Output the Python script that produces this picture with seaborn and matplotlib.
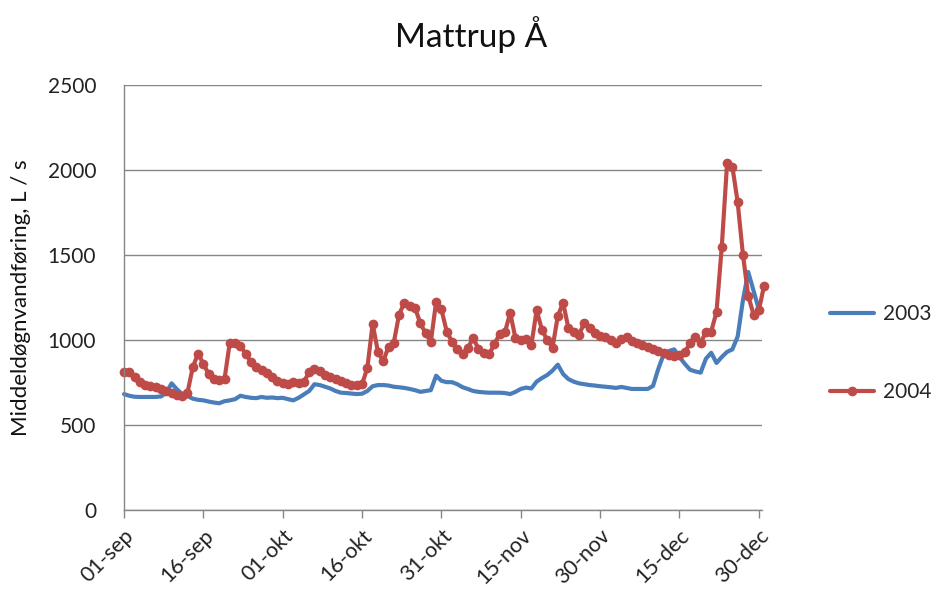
import numpy as np
import pandas as pd
import matplotlib
matplotlib.use("Agg")
import matplotlib.pyplot as plt
import seaborn as sns

title = "Mattrup Å"
ylabel = "Middeldøgnvandføring, L / s"
series_names = ["2003", "2004"]
tick_labels = ["01-sep", "16-sep", "01-okt", "16-okt", "31-okt",
               "15-nov", "30-nov", "15-dec", "30-dec"]
y_ticks = [0, 500, 1000, 1500, 2000, 2500]

flow_2003 = [682, 672, 666, 665, 665, 665, 665, 668, 690, 745,
             710, 682, 670, 655, 648, 645, 638, 632, 628, 640,
             645, 652, 672, 665, 660, 658, 665, 660, 662, 658,
             660, 652, 645, 660, 680, 700, 740, 735, 725, 715,
             700, 690, 688, 685, 682, 684, 700, 728, 735, 735,
             732, 725, 722, 718, 712, 705, 695, 700, 705, 790,
             760, 752, 752, 740, 722, 712, 700, 695, 692, 690,
             690, 690, 688, 682, 695, 712, 720, 715, 755, 776,
             794, 820, 855, 800, 770, 755, 745, 740, 735, 732,
             728, 725, 722, 718, 724, 718, 712, 712, 712, 712,
             730, 830, 915, 935, 945, 900, 860, 825, 815, 808,
             890, 925, 865, 900, 930, 945, 1020, 1235, 1400, 1290,
             1180, np.nan]

flow_2004 = [812, 812, 780, 755, 738, 728, 722, 712, 700, 690,
             678, 672, 690, 840, 920, 860, 800, 770, 765, 770,
             985, 985, 965, 920, 870, 840, 825, 805, 780, 760,
             745, 740, 752, 745, 755, 810, 830, 815, 795, 780,
             770, 760, 745, 735, 735, 740, 835, 1095, 930, 875,
             960, 985, 1150, 1220, 1200, 1190, 1100, 1040, 990, 1225,
             1180, 1050, 990, 945, 920, 955, 1010, 950, 925, 915,
             975, 1035, 1045, 1160, 1010, 1000, 1005, 970, 1175, 1060,
             1000, 955, 1140, 1220, 1070, 1045, 1030, 1100, 1070, 1040,
             1025, 1015, 1000, 985, 1005, 1015, 995, 980, 970, 960,
             945, 935, 925, 910, 905, 910, 930, 980, 1020, 985,
             1045, 1050, 1165, 1550, 2040, 2020, 1810, 1500, 1260, 1150,
             1175, 1320]

days = np.arange(len(flow_2004))
df = pd.DataFrame({
    "day": np.concatenate([days, days]),
    "flow": np.concatenate([flow_2003, flow_2004]),
    "year": [series_names[0]] * len(days) + [series_names[1]] * len(days),
})

sns.set_theme(style="white")
plt.rcParams["font.family"] = ["Lato", "DejaVu Sans"]

fig = plt.figure(figsize=(9.43, 5.97), dpi=100)
ax = fig.add_axes([124 / 943, 1 - 510 / 597, (762 - 124) / 943, (510 - 85) / 597])

palette = {"2003": "#4A7EBB", "2004": "#BE4B48"}
sns.lineplot(data=df[df.year == "2003"], x="day", y="flow", color=palette["2003"],
             linewidth=3.0, ax=ax, label="2003")
sns.lineplot(data=df[df.year == "2004"], x="day", y="flow", color=palette["2004"],
             linewidth=3.0, marker="o", markersize=7, markeredgewidth=0,
             ax=ax, label="2004")
for ln in ax.lines:
    ln.set_clip_on(False)

ax.set_xlim(0, 120.6)
ax.set_ylim(0, 2500)
ax.set_yticks(y_ticks)
ax.set_yticklabels([str(v) for v in y_ticks], fontsize=15, color="#222222")
ax.set_xticks(np.arange(0, 121, 15))
ax.set_xticklabels(tick_labels, rotation=45, ha="right", rotation_mode="anchor",
                   fontsize=15.5, color="#222222")
ax.tick_params(axis="x", direction="out", length=6, width=1, color="#868686",
               bottom=True, pad=5)
ax.tick_params(axis="y", length=0, pad=20)
ax.grid(axis="y", color="#868686", linewidth=1)
ax.set_axisbelow(True)
for s in ["top", "right"]:
    ax.spines[s].set_visible(False)
for s in ["left", "bottom"]:
    ax.spines[s].set_color("#868686")
    ax.spines[s].set_linewidth(1)
ax.set_xlabel("")
ax.set_ylabel(ylabel, fontsize=16, color="#111111", labelpad=12)

ax.get_legend().remove()
handles, labels = ax.get_legend_handles_labels()
fig.legend(handles, labels, loc="center left", bbox_to_anchor=(822 / 943, 1 - 353 / 597),
           frameon=False, fontsize=15, handlelength=2.1, labelspacing=2.8,
           handletextpad=0.45, borderaxespad=0)

fig.suptitle(title, x=0.5, y=1 - 35 / 597, va="center", fontsize=24, color="#111111")

fig.savefig("out.png", dpi=100, facecolor="white")
